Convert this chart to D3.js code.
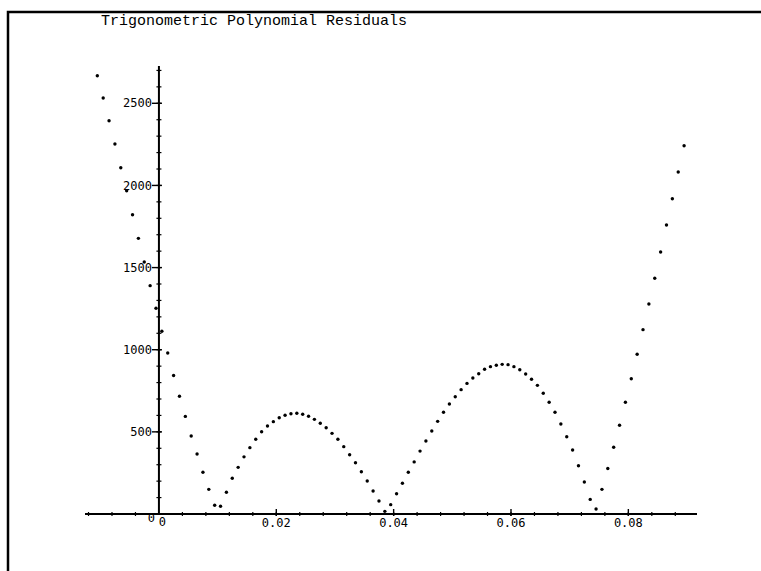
<!DOCTYPE html>
<html>
<head>
<meta charset="utf-8">
<script src="https://cdn.jsdelivr.net/npm/d3@7"></script>
<style>
  body { margin: 0; background: #fff; }
  .tick-label { font-family: "DejaVu Sans Mono", monospace; font-size: 12px; fill: #000; }
</style>
</head>
<body>
<div id="chart"></div>
<script>
// frame size
const FRAME_WIDTH = 761;
const FRAME_HEIGHT = 571;

// sample points (x position, residual)
const X_VALUES = [
  -0.0105, -0.0095, -0.0085, -0.0075, -0.0065, -0.0055, -0.0045, -0.0035, -0.0025, -0.0015,
  -0.0005, 0.0005, 0.0015, 0.0025, 0.0035, 0.0045, 0.0055, 0.0065, 0.0075, 0.0085,
  0.0095, 0.0105, 0.0115, 0.0125, 0.0135, 0.0145, 0.0155, 0.0165, 0.0175, 0.0185,
  0.0195, 0.0205, 0.0215, 0.0225, 0.0235, 0.0245, 0.0255, 0.0265, 0.0275, 0.0285,
  0.0295, 0.0305, 0.0315, 0.0325, 0.0335, 0.0345, 0.0355, 0.0365, 0.0375, 0.0385,
  0.0395, 0.0405, 0.0415, 0.0425, 0.0435, 0.0445, 0.0455, 0.0465, 0.0475, 0.0485,
  0.0495, 0.0505, 0.0515, 0.0525, 0.0535, 0.0545, 0.0555, 0.0565, 0.0575, 0.0585,
  0.0595, 0.0605, 0.0615, 0.0625, 0.0635, 0.0645, 0.0655, 0.0665, 0.0675, 0.0685,
  0.0695, 0.0705, 0.0715, 0.0725, 0.0735, 0.0745, 0.0755, 0.0765, 0.0775, 0.0785,
  0.0795, 0.0805, 0.0815, 0.0825, 0.0835, 0.0845, 0.0855, 0.0865, 0.0875, 0.0885,
  0.0895
];
const RESIDUALS = [
  2668, 2532, 2394, 2252, 2108, 1968, 1822, 1678, 1534, 1390,
  1252, 1112, 980, 843, 717, 594, 475, 365, 254, 150,
  53, 47, 132, 218, 284, 348, 404, 455, 501, 536,
  562, 586, 601, 610, 613, 607, 595, 576, 552, 525,
  491, 455, 410, 361, 312, 257, 201, 140, 79, 16,
  57, 123, 187, 254, 317, 383, 444, 505, 564, 619,
  670, 714, 757, 795, 828, 854, 881, 897, 905, 911,
  909, 897, 878, 852, 820, 783, 735, 680, 619, 548,
  470, 390, 294, 195, 89, 30, 150, 277, 406, 540,
  680, 823, 972, 1122, 1278, 1435, 1595, 1759, 1919, 2082,
  2242
];

// ticks
const X_MAJOR = [0.02, 0.04, 0.06, 0.08];
const X_LABELS = ["0.02", "0.04", "0.06", "0.08"];
const Y_MAJOR = [500, 1000, 1500, 2000, 2500];
const Y_LABELS = ["500", "1000", "1500", "2000", "2500"];
const TITLE = "Trigonometric Polynomial Residuals";

const svg = d3.select("#chart")
  .append("svg")
    .attr("width", FRAME_WIDTH)
    .attr("height", FRAME_HEIGHT);

// scales
const X_SCALE = d3.scaleLinear().domain([-0.0126, 0.0917]).range([85, 697]);
const Y_SCALE = d3.scaleLinear().domain([0, 2727]).range([514, 66]);

const X0 = X_SCALE(0);
const Y0 = Y_SCALE(0);

// frame border (top and left edge)
svg.append("path")
  .attr("d", "M8," + FRAME_HEIGHT + " V12 H" + FRAME_WIDTH)
  .attr("fill", "none")
  .attr("stroke", "#000")
  .attr("stroke-width", 2.5);

// title
svg.append("text")
  .attr("x", 254)
  .attr("y", 25)
  .attr("text-anchor", "middle")
  .style("font-family", "'Liberation Mono', 'Courier New', monospace")
  .style("font-size", "15px")
  .text(TITLE);

// x axis
const xMinor = d3.range(-0.012, 0.0917, 0.004).filter(v => Math.abs(v) > 1e-9);
const xAxis = svg.append("g").attr("transform", "translate(0," + Y0 + ")");
xAxis.append("line")
  .attr("x1", X_SCALE.range()[0]).attr("x2", X_SCALE.range()[1])
  .attr("stroke", "#000").attr("stroke-width", 2);
xAxis.selectAll(".xminor")
  .data(xMinor)
  .enter().append("line")
    .attr("x1", d => X_SCALE(d)).attr("x2", d => X_SCALE(d))
    .attr("y1", -2).attr("y2", 2)
    .attr("stroke", "#000").attr("stroke-width", 1.2);
xAxis.selectAll(".xmajor")
  .data(X_MAJOR)
  .enter().append("line")
    .attr("x1", d => X_SCALE(d)).attr("x2", d => X_SCALE(d))
    .attr("y1", -5).attr("y2", 2)
    .attr("stroke", "#000").attr("stroke-width", 1.4);
xAxis.selectAll(".xlabel")
  .data(X_MAJOR)
  .enter().append("text")
    .attr("class", "tick-label")
    .attr("x", d => X_SCALE(d))
    .attr("y", 13)
    .attr("text-anchor", "middle")
    .text((d, i) => X_LABELS[i]);
xAxis.append("text")
  .attr("class", "tick-label")
  .attr("x", X0 + 3.5)
  .attr("y", 12)
  .attr("text-anchor", "middle")
  .text("0");

// y axis
const yMinor = d3.range(100, 2800, 100);
const yAxis = svg.append("g").attr("transform", "translate(" + X0 + ",0)");
yAxis.append("line")
  .attr("y1", Y_SCALE.range()[0]).attr("y2", Y_SCALE.range()[1])
  .attr("stroke", "#000").attr("stroke-width", 2);
yAxis.selectAll(".yminor")
  .data(yMinor)
  .enter().append("line")
    .attr("y1", d => Y_SCALE(d)).attr("y2", d => Y_SCALE(d))
    .attr("x1", -2.5).attr("x2", 2.5)
    .attr("stroke", "#000").attr("stroke-width", 1.2);
yAxis.selectAll(".ymajor")
  .data(Y_MAJOR)
  .enter().append("line")
    .attr("y1", d => Y_SCALE(d)).attr("y2", d => Y_SCALE(d))
    .attr("x1", -7).attr("x2", 3)
    .attr("stroke", "#000").attr("stroke-width", 1.4);
yAxis.selectAll(".ylabel")
  .data(Y_MAJOR)
  .enter().append("text")
    .attr("class", "tick-label")
    .attr("x", -7)
    .attr("y", d => Y_SCALE(d))
    .attr("dy", "0.35em")
    .attr("text-anchor", "end")
    .text((d, i) => Y_LABELS[i]);
yAxis.append("text")
  .attr("class", "tick-label")
  .attr("x", -4)
  .attr("y", Y0 + 8)
  .attr("text-anchor", "end")
  .text("0");

// points
svg.selectAll(".point")
  .data(X_VALUES)
  .enter().append("circle")
    .attr("class", "point")
    .attr("cx", d => X_SCALE(d))
    .attr("cy", (d, i) => Y_SCALE(RESIDUALS[i]))
    .attr("r", 1.7)
    .attr("fill", "#000");
</script>
</body>
</html>
